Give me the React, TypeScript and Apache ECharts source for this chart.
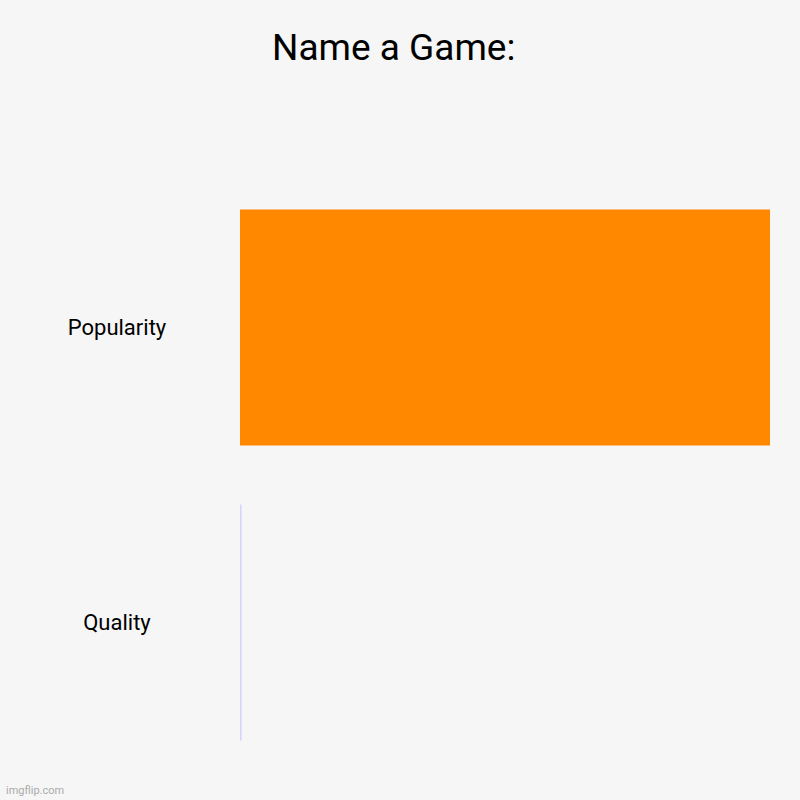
import React, { useRef, useEffect } from "react";
import * as echarts from "echarts";

// 类目与数值
const CATEGORIES = ["Popularity", "Quality"];
const VALUES = [100, 0.3];
const BAR_COLORS = ["#ff8800", "#d4d4ff"];
const TITLE = "Name a Game:";

const App: React.FC = () => {
  const ref = useRef<HTMLDivElement>(null);

  useEffect(() => {
    if (!ref.current) return;
    document.body.style.margin = "0";
    const chart = echarts.init(ref.current, null, { renderer: "svg" });
    chart.setOption({
      animation: false,
      backgroundColor: "#f6f6f6",
      title: {
        text: TITLE,
        left: 267,
        top: 24,
        textStyle: {
          fontFamily: "Roboto",
          fontSize: 37,
          fontWeight: "normal",
          color: "#000",
        },
      },
      graphic: [
        {
          type: "text",
          left: 6,
          bottom: 4,
          style: {
            text: "imgflip.com",
            fontFamily: "Roboto",
            fontSize: 11,
            fill: "#aaaaaa",
          },
        },
      ],
      grid: { left: 240, right: 30, top: 180, bottom: 30, containLabel: false },
      xAxis: {
        type: "value",
        min: 0,
        max: 100,
        show: false,
      },
      yAxis: {
        type: "category",
        data: CATEGORIES,
        inverse: true,
        axisLine: { show: false },
        axisTick: { show: false },
        splitLine: { show: false },
        axisLabel: {
          align: "center",
          margin: 123,
          fontFamily: "Roboto",
          fontSize: 22,
          color: "#000",
        },
      },
      series: [
        {
          type: "bar",
          data: VALUES.map((v, i) => ({ value: v, itemStyle: { color: BAR_COLORS[i] } })),
          barCategoryGap: "20%",
        },
      ],
    });
    return () => chart.dispose();
  }, []);

  return <div ref={ref} style={{ width: 800, height: 800 }} />;
};

export default App;
